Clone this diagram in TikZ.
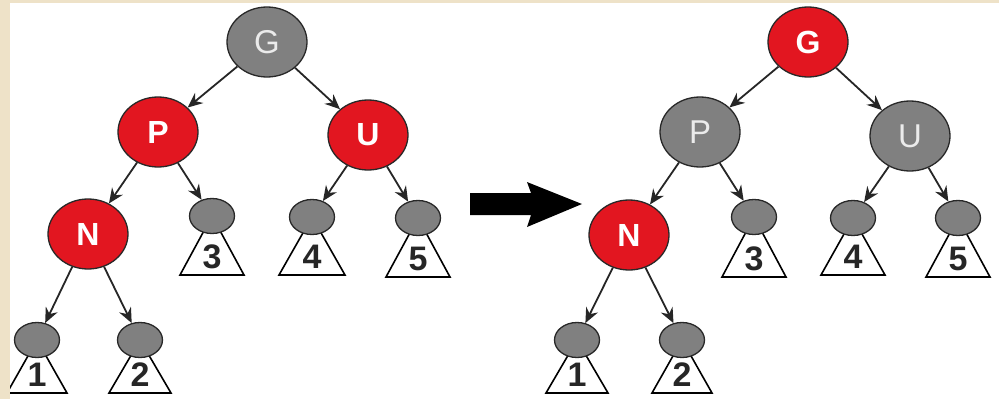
\documentclass[tikz,border=0pt]{standalone}
\usepackage{fontspec}
\setmainfont{Liberation Sans}
\usetikzlibrary{shapes.geometric,arrows.meta}
\definecolor{rbred}{RGB}{226,22,32}
\definecolor{rbgray}{RGB}{128,128,128}
\definecolor{beigeedge}{RGB}{238,226,200}
\definecolor{outl}{RGB}{40,40,40}
\begin{document}
\begin{tikzpicture}[x=1pt,y=-1pt,
  bignode/.style={ellipse, draw=outl, line width=1.3pt, minimum width=80pt, minimum height=70pt, inner sep=0pt, text=white},
  rednode/.style={bignode, fill=rbred, font=\bfseries\fontsize{32}{32}\selectfont},
  graynode/.style={bignode, fill=rbgray, text=white!92!black, font=\fontsize{33}{33}\selectfont},
  leaf/.style={ellipse, draw=outl, line width=1.3pt, fill=rbgray, minimum width=45pt, minimum height=35pt, inner sep=0pt},
  subtree/.style={draw=black, line width=1.6pt, fill=white, line join=miter},
  sublabel/.style={font=\bfseries\fontsize{34}{34}\selectfont, text=black!85, inner sep=0pt},
  edgearrow/.style={draw=black!85, line width=1.8pt, -{Stealth[length=15pt,width=13pt,inset=5pt]}},
]
\useasboundingbox (0,0) rectangle (999,399);
\fill[white] (0,0) rectangle (999,399);

% ---------- subtree triangles ----------
\foreach \n/\x/\y/\b/\h/\t in {a1/37/340/393/30/1, a2/140/340/393/31/2, a3/212/216/275/32/3, a4/312/217/275/33/4, a5/418/218/277/32/5,
                              b1/577/340/393/31/1, b2/682/340/393/30/2, b3/754/217/277/32/3, b4/853/218/275/32/4, b5/958/218/277/32/5}{
  \draw[subtree] (\x,\y) -- (\x-\h,\b) -- (\x+\h,\b) -- cycle;
  \node[sublabel] (lab\n) at (\x,\b-18) {\t};
  \node[leaf] (\n) at (\x,\y) {};
}

% ---------- left tree ----------
\node[graynode] (G1) at (267,42) {G};
\node[rednode]  (P1) at (158,132) {P};
\node[rednode]  (U1) at (368,135) {U};
\node[rednode]  (N1) at (88,234) {N};

% ---------- right tree ----------
\node[rednode]  (G2) at (808,42) {G};
\node[graynode] (P2) at (700,132) {P};
\node[graynode] (U2) at (910,136) {U};
\node[rednode]  (N2) at (629,235) {N};

% ---------- edges ----------
\foreach \s/\e in {G1/P1, G1/U1, P1/N1, P1/a3, U1/a4, U1/a5, N1/a1, N1/a2,
                   G2/P2, G2/U2, P2/N2, P2/b3, U2/b4, U2/b5, N2/b1, N2/b2}{
  \draw[edgearrow] (\s) -- (\e);
}

% ---------- big transformation arrow ----------
\fill[black] (470,193) -- (531,193) -- (527,182) -- (582,204) -- (527,227) -- (531,215) -- (470,215) -- cycle;

% ---------- frame edges ----------
\fill[beigeedge] (0,0) rectangle (10,399);
\fill[beigeedge] (0,0) rectangle (999,2.5);
\end{tikzpicture}
\end{document}
